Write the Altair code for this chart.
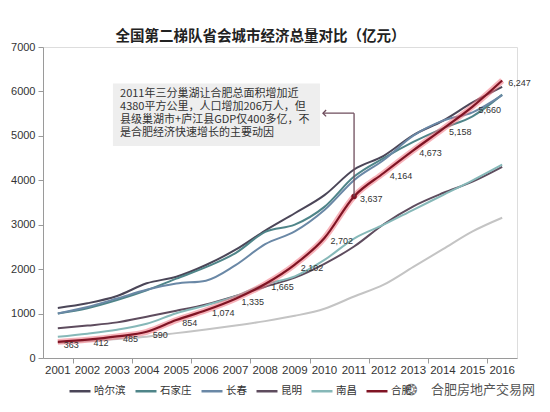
import altair as alt
import pandas as pd

years = list(range(2001, 2017))
cities = ["哈尔滨", "石家庄", "长春", "昆明", "南昌", "合肥", "贵阳"]
colors = ["#4b4658", "#4f8589", "#6a88a6", "#5e4c5e", "#86b8b8", "#801424", "#c4c4c4"]

harbin = [1128, 1232, 1395, 1681, 1830, 2094, 2437, 2868, 3258, 3665, 4243, 4550, 5017, 5340, 5751, 6101]
shijiazhuang = [1001, 1121, 1305, 1524, 1786, 2045, 2362, 2838, 3001, 3401, 4083, 4500, 4864, 5170, 5441, 5928]
changchun = [1003, 1150, 1338, 1535, 1675, 1741, 2089, 2561, 2848, 3329, 4003, 4457, 5004, 5342, 5530, 5917]
kunming = [670, 730, 802, 930, 1062, 1204, 1394, 1605, 1809, 2120, 2509, 3011, 3415, 3713, 3968, 4300]
nanchang = [480, 548, 635, 770, 1007, 1185, 1390, 1660, 1838, 2207, 2689, 3000, 3336, 3668, 4000, 4355]
hefei = [363, 412, 485, 590, 854, 1074, 1335, 1665, 2102, 2702, 3637, 4164, 4673, 5158, 5660, 6247]
guiyang = [335, 380, 430, 480, 560, 640, 730, 830, 950, 1110, 1384, 1650, 2050, 2450, 2850, 3157]

series = [harbin, shijiazhuang, changchun, kunming, nanchang, hefei, guiyang]

title_text = "全国第二梯队省会城市经济总量对比（亿元）"
note_lines = [
    "2011年三分巢湖让合肥总面积增加近",
    "4380平方公里，人口增加206万人，但",
    "县级巢湖市+庐江县GDP仅400多亿，不",
    "是合肥经济快速增长的主要动因",
]
watermark = "合肥房地产交易网"

rows = []
for c, vals in zip(cities, series):
    for yr, v in zip(years, vals):
        rows.append({"city": c, "year": yr, "gdp": v})
df = pd.DataFrame(rows)
year_df = pd.DataFrame({"year": years})

CJK = "Noto Sans CJK SC"
LAT = "Liberation Sans"

xscale = alt.Scale(domain=[2000.5, 2016.5], nice=False, zero=False)

X = alt.X(
    "year:Q",
    scale=xscale,
    axis=alt.Axis(
        values=years, title=None, grid=False, labels=False,
        tickOffset=14.8, tickSize=5,
        domainColor="#9a9a9a", tickColor="#9a9a9a",
    ),
)
Y = alt.Y(
    "gdp:Q",
    scale=alt.Scale(domain=[0, 7000], nice=False),
    axis=alt.Axis(
        values=list(range(0, 7001, 1000)), format="d", title=None, grid=False,
        tickSize=5, labelPadding=3, labelFontSize=11, labelFont=LAT,
        labelColor="#333333", domainColor="#9a9a9a", tickColor="#9a9a9a",
    ),
)

color = alt.Color(
    "city:N",
    scale=alt.Scale(domain=cities, range=colors),
    legend=alt.Legend(
        title=None, orient="none", legendX=25, legendY=332, direction="horizontal",
        values=cities[:6], symbolType="stroke", symbolSize=441, symbolStrokeWidth=2.5,
        labelFont=CJK, labelFontSize=10.5, labelColor="#333333", columnPadding=4,
        labelOffset=2, columns=6,
    ),
)

base = alt.Chart(df)

others = base.transform_filter(alt.datum.city != "合肥").mark_line(
    interpolate="monotone", strokeWidth=2
).encode(x=X, y=Y, color=color, detail="city:N")

hf = base.transform_filter(alt.datum.city == "合肥")

glow = hf.mark_line(interpolate="monotone", strokeWidth=6, color="#f07380", opacity=0.55).encode(x=X, y=Y)
core = hf.mark_line(interpolate="monotone", strokeWidth=2.2).encode(x=X, y=Y, color=color)

labels = hf.mark_text(align="left", baseline="middle", dx=6, dy=3, fontSize=9, font=LAT, color="#333333").encode(
    x=X, y=Y, text=alt.Text("gdp:Q", format=",")
)

dot = hf.transform_filter(alt.datum.year == 2011).mark_point(filled=True, size=30, color="#801424", opacity=1).encode(x=X, y=Y)

# year labels along the x axis (centred on each year)
year_labels = alt.Chart(year_df).mark_text(
    baseline="top", align="center", fontSize=11.5, font=LAT, color="#333333"
).encode(
    x=alt.X("year:Q", scale=xscale),
    y=alt.value(318),
    text=alt.Text("year:Q", format="d"),
)

ann = alt.Chart(pd.DataFrame({"a": [0]}))

box = ann.mark_rect(color="#eeeeee").encode(
    x=alt.datum(2002.86), x2=alt.datum(2009.85), y=alt.datum(6180), y2=alt.datum(4770)
)
note = ann.mark_text(
    text=note_lines, align="left", baseline="top", fontSize=11, lineHeight=13,
    font=CJK, color="#333333",
).encode(x=alt.datum(2003.1), y=alt.datum(6070))

vline = ann.mark_rule(color="#6e4d5c", strokeWidth=1.3).encode(
    x=alt.datum(2011), y=alt.datum(3637), y2=alt.datum(5510)
)
hline = ann.mark_rule(color="#6e4d5c", strokeWidth=1.3).encode(
    x=alt.datum(2009.95), x2=alt.datum(2011), y=alt.datum(5510)
)
head = ann.mark_point(
    shape="M1,-1L0,0L1,1", filled=False, size=40, color="#6e4d5c", strokeWidth=1.3, opacity=1
).encode(x=alt.datum(2009.95), y=alt.datum(5510))

wm_halo = ann.mark_text(
    text=watermark, align="left", baseline="middle", fontSize=13, font=CJK,
    color="white", stroke="white", strokeWidth=3,
).encode(x=alt.value(388), y=alt.value(343))
wm = ann.mark_text(
    text=watermark, align="left", baseline="middle", fontSize=13, font=CJK, color="#555555",
).encode(x=alt.value(388), y=alt.value(343))
wm_icon = ann.mark_text(
    text="❂", align="left", baseline="middle", fontSize=15, font="DejaVu Sans", color="#777777",
).encode(x=alt.value(362), y=alt.value(343))

chart = alt.layer(
    others, glow, core, dot, labels, year_labels, box, note, vline, hline, head, wm_halo, wm_icon, wm
).properties(
    width=474, height=311,
    title=alt.TitleParams(
        title_text, anchor="start", dx=105, fontSize=14.5, font=CJK, fontWeight="bold",
        color="#222222", offset=-3,
    ),
    autosize=alt.AutoSizeParams(type="none"),
    padding={"left": 35, "top": 39, "right": 25, "bottom": 45},
).configure_view(stroke=None).configure(background="white")

chart.save("out.html", embed_options={"renderer": "svg", "actions": False})
